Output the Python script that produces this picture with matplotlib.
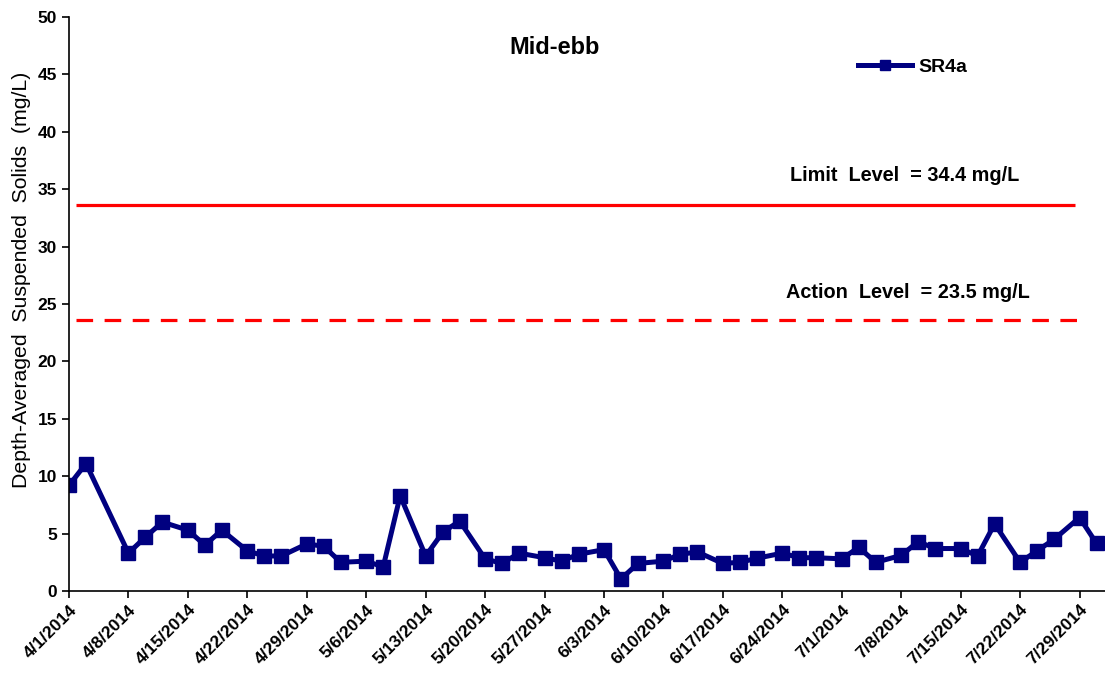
import datetime as dt

import matplotlib
matplotlib.use("Agg")
import matplotlib.pyplot as plt
import matplotlib.dates as mdates
from matplotlib.ticker import FuncFormatter, MultipleLocator

plt.rcParams['font.family'] = ['Liberation Sans', 'DejaVu Sans']

# sampling days (April-July 2014) and measured SS at SR4a, mid-ebb
days = ['4/1', '4/3', '4/8', '4/10', '4/12', '4/15', '4/17', '4/19', '4/22', '4/24',
        '4/26', '4/29', '5/1', '5/3', '5/6', '5/8', '5/10', '5/13', '5/15', '5/17',
        '5/20', '5/22', '5/24', '5/27', '5/29', '5/31', '6/3', '6/5', '6/7', '6/10',
        '6/12', '6/14', '6/17', '6/19', '6/21', '6/24', '6/26', '6/28', '7/1', '7/3',
        '7/5', '7/8', '7/10', '7/12', '7/15', '7/17', '7/19', '7/22', '7/24', '7/26',
        '7/29', '7/31']
sr4a = [9.2, 11.1, 3.3, 4.7, 6.0, 5.3, 4.0, 5.3, 3.5, 3.05,
        3.05, 4.1, 3.9, 2.5, 2.6, 2.1, 8.3, 3.05, 5.1, 6.1,
        2.8, 2.4, 3.3, 2.9, 2.6, 3.2, 3.6, 1.05, 2.4, 2.6,
        3.2, 3.4, 2.4, 2.5, 2.85, 3.3, 2.9, 2.9, 2.8, 3.8,
        2.5, 3.1, 4.3, 3.7, 3.7, 3.05, 5.85, 2.5, 3.5, 4.5,
        6.4, 4.15]

# level lines as drawn in the original
limit_x = ['4/1', '7/28']
limit_y = [33.6, 33.6]
action_x = ['4/1', '7/29']
action_y = [23.6, 23.6]
limit_label = 'Limit  Level  = 34.4 mg/L'
action_label = 'Action  Level  = 23.5 mg/L'


def to_dates(lst):
    out = []
    for s in lst:
        m, d = s.split('/')
        out.append(dt.datetime(2014, int(m), int(d)))
    return out


x = to_dates(days)
lx = to_dates(limit_x)
lx[0] += dt.timedelta(hours=19)
lx[1] += dt.timedelta(hours=12)
ax_ = to_dates(action_x)
ax_[0] += dt.timedelta(hours=21)
ax_[1] += dt.timedelta(hours=10)

fig = plt.figure(figsize=(11.05, 6.89), dpi=100)
ax = fig.add_axes([69 / 1105, 1 - 591 / 689, 1 - 69 / 1105, (591 - 17) / 689])

ax.plot(lx, limit_y, color='#ff0000', lw=2.3, solid_capstyle='butt')
ax.plot(ax_, action_y, color='#ff0000', lw=2.3, dashes=(5.2, 3.6))
ax.plot(x, sr4a, color='#000080', lw=3.6, marker='s', markersize=10.5,
        label='SR4a', clip_on=True)

ax.set_xlim(dt.datetime(2014, 4, 1), dt.datetime(2014, 8, 1))
ax.set_ylim(0, 50)
ax.yaxis.set_major_locator(MultipleLocator(5))
ticks = [dt.datetime(2014, 4, 1) + dt.timedelta(days=7 * i) for i in range(18)]
ax.set_xticks(ticks)
ax.xaxis.set_major_formatter(FuncFormatter(
    lambda v, p: '{d.month}/{d.day}/{d.year}'.format(d=mdates.num2date(v))))

for s in ['top', 'right']:
    ax.spines[s].set_visible(False)
for s in ['left', 'bottom']:
    ax.spines[s].set_linewidth(1.2)

ax.tick_params(axis='both', direction='out', length=5, width=1.2,
               labelsize=12.5)
ax.tick_params(axis='x', pad=3)
for lab in ax.get_yticklabels():
    lab.set_fontweight('bold')
for lab in ax.get_xticklabels():
    lab.set_fontweight('bold')
    lab.set_rotation(45)
    lab.set_ha('right')
    lab.set_va('top')
    lab.set_rotation_mode('anchor')

ax.set_ylabel('Depth-Averaged  Suspended  Solids  (mg/L)', fontsize=15.3)
ax.yaxis.set_label_coords(-0.037, 0.542)

ax.text(0.469, 0.946, 'Mid-ebb', transform=ax.transAxes, ha='center',
        va='center', fontsize=17, fontweight='bold')
ax.text(dt.datetime(2014, 7, 8, 10), 36.2, limit_label, ha='center',
        va='center', fontsize=14.3, fontweight='bold')
ax.text(dt.datetime(2014, 7, 8, 18), 26.0, action_label, ha='center',
        va='center', fontsize=14.3, fontweight='bold')

ax.legend(loc='center left', bbox_to_anchor=(858 / 1105, 1 - 67 / 689),
          bbox_transform=fig.transFigure, frameon=False, borderpad=0,
          borderaxespad=0, handlelength=2.8, handletextpad=0.3,
          markerscale=0.75, prop={'weight': 'bold', 'size': 14})

fig.savefig('out.png', dpi=100)
